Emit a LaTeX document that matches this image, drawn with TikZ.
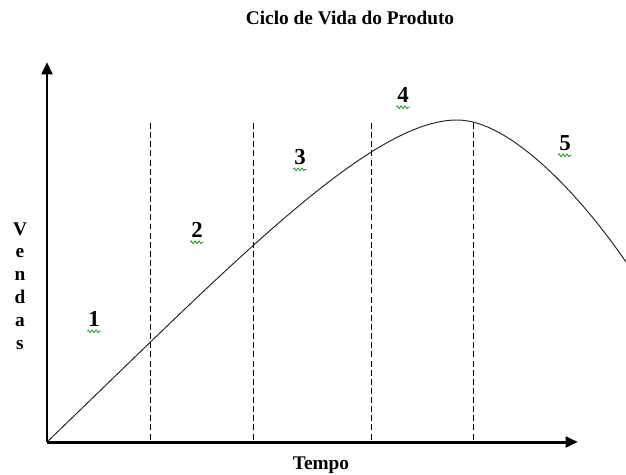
\documentclass[tikz,border=0pt]{standalone}
\usepackage{fontspec}
\setmainfont{Liberation Serif}
\usetikzlibrary{arrows.meta, decorations.pathmorphing}
\tikzstyle{ax}=[line width=1.7pt, -{Triangle[length=7pt, width=6pt]}]
\tikzstyle{sep}=[dash pattern=on 3.4pt off 1.8pt, line width=0.5pt]
\tikzstyle{num}=[font=\fontsize{13}{13}\selectfont\bfseries, inner sep=0pt]
\tikzstyle{squig}=[green!60!black, line width=0.4pt, decorate, decoration={zigzag, segment length=2.2pt, amplitude=0.8pt}]

\begin{document}
\begin{tikzpicture}[x=0.02cm, y=-0.02cm]
	\useasboundingbox (0, 0) rectangle (626, 474);
	\node [font=\fontsize{11}{11}\selectfont\bfseries] (t) at (350, 18) {Ciclo de Vida do Produto};
	\coordinate (o) at (47, 442);
	\coordinate (y) at (47, 62);
	\coordinate (x) at (578, 442);
	\coordinate (p) at (457, 120);
	\coordinate (e) at (626, 262);
	\draw [sep] (150, 123) -- (150, 442);
	\draw [sep] (253, 123) -- (253, 442);
	\draw [sep] (371, 123) -- (371, 442);
	\draw [sep] (473, 123) -- (473, 442);
	\draw [gray!30!black, line width=0.55pt] (o) .. controls (230, 266) and (370, 120) .. (p) .. controls (510, 120) and (580, 195) .. (e);
	\draw [ax] (o) -- (y);
	\draw [ax] (o) -- (x);
	\node [font=\fontsize{11}{13}\selectfont\bfseries, align=center] (v) at (20, 286) {V\\e\\n\\d\\a\\s};
	\node [font=\fontsize{11}{11}\selectfont\bfseries] (tm) at (321, 465) {Tempo};
	\node [num] (0) at (94, 319) {1};
	\node [num] (1) at (197, 230) {2};
	\node [num] (2) at (300, 157) {3};
	\node [num] (3) at (403, 95) {4};
	\node [num] (4) at (565, 143) {5};
	\foreach \n in {0,...,4}
		\draw [squig] ([xshift=-3.8pt, yshift=-2.5pt]\n.south) -- ([xshift=3.8pt, yshift=-2.5pt]\n.south);
\end{tikzpicture}
\end{document}
